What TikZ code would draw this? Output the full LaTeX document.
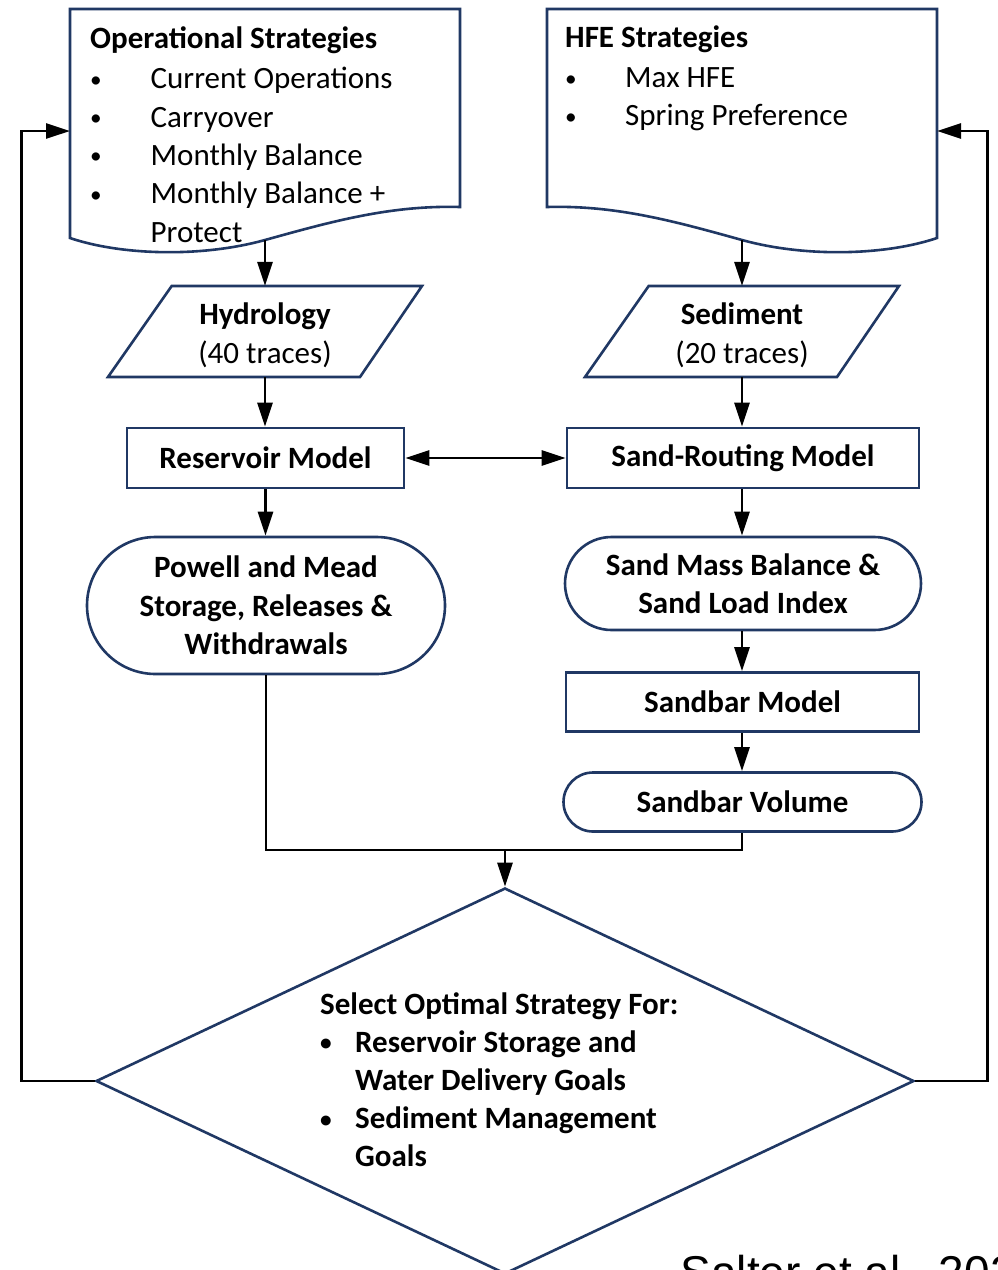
\documentclass[tikz,border=0pt]{standalone}
\usepackage{fontspec}
\setmainfont{Carlito}
\newfontfamily\citefont{Liberation Sans}
\usetikzlibrary{arrows.meta,shapes.geometric,shapes.misc}
\definecolor{navy}{HTML}{203864}
\newcommand\leadrule{\rule{0pt}{30pt}}
\newcommand\smallbullet{\raisebox{1.5pt}{\scalebox{0.75}{\textbullet}}}
\newcommand\bulbox[1]{\makebox[#1][l]{\smallbullet}}
\begin{document}
\begin{tikzpicture}[x=1pt,y=-1pt,
  shapeline/.style={draw=navy, line width=2.6pt, fill=white},
  conn/.style={draw=black, line width=2.8pt},
  tip/.tip={Triangle[length=24pt,width=15pt]},
  arr/.style={conn, -tip},
  txt/.style={font=\fontsize{31}{38.3}\selectfont, inner sep=0pt},
  boxtext/.style={txt, font=\fontsize{31}{38.3}\selectfont\bfseries, align=center},
  rectbox/.style={shapeline, rectangle, boxtext},
  stadium/.style={shapeline, rounded rectangle, boxtext},
  listtext/.style={txt, anchor=north west, align=left},
]
\useasboundingbox (0,0) rectangle (997,1270);
\fill[white] (0,0) rectangle (997,1270);

% ---- documents ----
\draw[shapeline] (70,9) -- (460,9) -- (460,207)
  .. controls (390,205) and (330,222) .. (265,240)
  .. controls (200,258) and (120,255) .. (70,238) -- cycle;
\coordinate (docLout) at (265,240);
\coordinate (docLin) at (70,131);
\node[listtext] (opstext) at (90,18) {\leadrule\textbf{Operational Strategies}\\[2.3pt]
  \bulbox{60.5pt}Current Operations\\
  \bulbox{60.5pt}Carryover\\
  \bulbox{60.5pt}Monthly Balance\\
  \bulbox{60.5pt}Monthly Balance +\\
  \hspace*{60.5pt}Protect};

\draw[shapeline] (937,9) -- (547,9) -- (547,207)
  .. controls (617,205) and (677,222) .. (742,240)
  .. controls (807,258) and (887,255) .. (937,238) -- cycle;
\coordinate (docRout) at (742,240);
\coordinate (docRin) at (937,131);
\node[listtext] (hfetext) at (565,17.7) {\leadrule\textbf{HFE Strategies}\\[1.3pt]
  \bulbox{60pt}Max HFE\\
  \bulbox{60pt}Spring Preference};

% ---- parallelograms ----
\draw[shapeline] (171.7,286) -- (422,286) -- (360,377) -- (108,377) -- cycle;
\node[txt, align=center, minimum height=91pt] (hyd) at (265,331.5) {\rule{0pt}{29pt}\textbf{Hydrology}\\(40 traces)};
\draw[shapeline] (648.7,286) -- (899,286) -- (837,377) -- (585,377) -- cycle;
\node[txt, align=center, minimum height=91pt] (sed) at (742,331.5) {\rule{0pt}{29pt}\textbf{Sediment}\\(20 traces)};

% ---- process boxes ----
\node[rectbox, minimum width=277pt, minimum height=60pt] (res) at (265.5,458) {Reservoir Model};
\node[rectbox, minimum width=352pt, minimum height=60pt] (srm) at (743,458) {Sand-Routing Model};
\node[stadium, minimum width=358pt, minimum height=137pt] (pm) at (266,605.5) {Powell and Mead\\Storage, Releases \&\\Withdrawals};
\node[stadium, minimum width=356pt, minimum height=93pt] (smb) at (743,583.5) {Sand Mass Balance \&\\Sand Load Index};
\node[rectbox, minimum width=353pt, minimum height=59pt] (sbm) at (742.5,702) {Sandbar Model};
\node[stadium, minimum width=358pt, minimum height=59pt] (sbv) at (742.5,802) {Sandbar Volume};

% ---- decision ----
\node[shapeline, diamond, minimum width=818pt, minimum height=386pt, inner sep=0pt] (dia) at (505,1081) {};
\node[listtext, font=\fontsize{31}{38.1}\selectfont\bfseries] (diatext) at (320,984) {\leadrule Select Optimal Strategy For:\\
  \bulbox{35pt}Reservoir Storage and\\
  \hspace*{35pt}Water Delivery Goals\\
  \bulbox{35pt}Sediment Management\\
  \hspace*{35pt}Goals};

% ---- connectors ----
\coordinate (join) at (505,850);
\draw[arr] (docLout) -- (hyd.north);
\draw[arr] (hyd.south) -- (hyd.south |- res.north);
\draw[arr] (res.south) -- (res.south |- pm.north);
\draw[conn, tip-tip] (res.east) -- (srm.west);
\draw[arr] (docRout) -- (sed.north);
\draw[arr] (sed.south) -- (sed.south |- srm.north);
\draw[arr] (sed.south |- srm.south) -- (sed.south |- smb.north);
\draw[arr] (sed.south |- smb.south) -- (sed.south |- sbm.north);
\draw[arr] (sed.south |- sbm.south) -- (sed.south |- sbv.north);
\draw[conn] (pm.south) |- (join) -| (sed.south |- sbv.south);
\draw[arr] (join) -- (dia.north);
\draw[arr] (dia.west) -- ++(-73,0) |- (docLin);
\draw[arr] (dia.east) -- ++(72,0) |- (docRin);

% ---- citation (cropped by the page edge, as in the reference) ----
\node[anchor=base west, inner sep=0pt, font=\citefont\fontsize{46}{50}\selectfont] (cite) at (680.5,1288) {Salter et al., 202};
\end{tikzpicture}
\end{document}
